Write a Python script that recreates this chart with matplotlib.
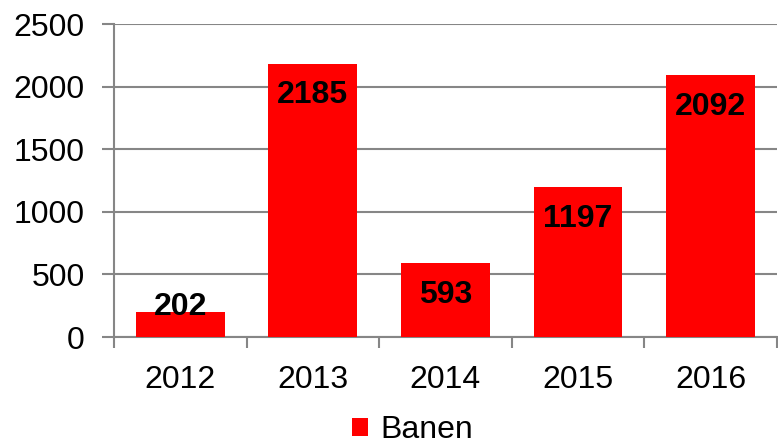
import matplotlib
matplotlib.use("Agg")
import matplotlib.pyplot as plt
import numpy as np

# ---------------------------------------------------------------------------
# Data
# ---------------------------------------------------------------------------
years = ["2012", "2013", "2014", "2015", "2016"]
banen = [202, 2185, 593, 1197, 2092]
y_ticks = [0, 500, 1000, 1500, 2000, 2500]

RED = "#ff0000"
GRID = "#868686"

plt.rcParams["font.family"] = ["Liberation Sans", "DejaVu Sans"]

fig = plt.figure(figsize=(7.78, 4.47), dpi=100)
ax = fig.add_axes([0.1465, 0.246, 0.852, 0.7])

x = np.arange(len(years))
ax.bar(x, banen, width=0.67, color=RED, label="Banen", zorder=3)

ax.set_xlim(-0.5, len(years) - 0.5)
ax.set_ylim(0, 2500)
ax.set_yticks(y_ticks)
ax.set_yticklabels([str(t) for t in y_ticks], fontsize=23)
ax.grid(True, axis="y", color=GRID, linewidth=1.5, zorder=0)

# category labels at centres, tick marks at boundaries
ax.set_xticks(x)
ax.set_xticklabels(years, fontsize=23)
ax.set_xticks(np.arange(-0.5, len(years)), minor=True)
ax.tick_params(axis="x", which="major", length=0, pad=20)
ax.tick_params(axis="x", which="minor", length=8, width=1.5, color=GRID)
ax.tick_params(axis="y", length=9, width=1.5, color=GRID, pad=12)

for side in ["top", "right"]:
    ax.spines[side].set_visible(False)
for side in ["left", "bottom"]:
    ax.spines[side].set_color(GRID)
    ax.spines[side].set_linewidth(1.5)

# data labels just inside the top of each bar
for xi, v in zip(x, banen):
    ypos = max(v - 255, 240)
    ax.text(xi, ypos, str(v), ha="center", va="center",
            fontsize=23, fontweight="bold", color="black", zorder=4)

fig.legend(loc="lower center", bbox_to_anchor=(0.53, -0.06), frameon=False,
           fontsize=23, handlelength=0.5, handleheight=0.5, handletextpad=0.4)

fig.savefig("out.png", dpi=100)
plt.close(fig)
